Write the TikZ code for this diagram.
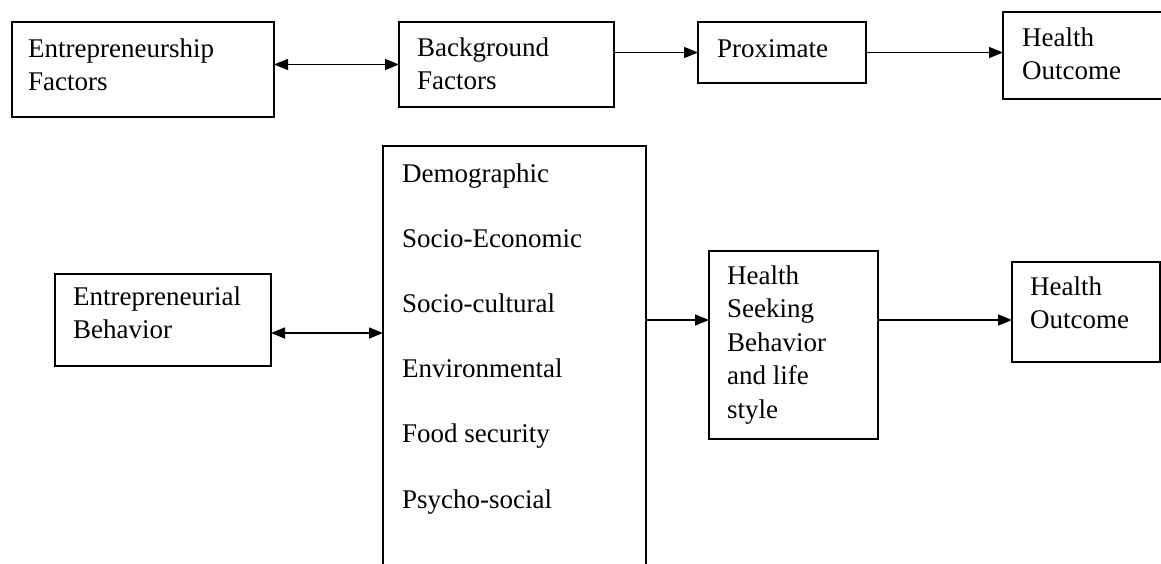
\documentclass[tikz,border=0pt]{standalone}
\usepackage{fontspec}
\setmainfont{Liberation Serif}
\usetikzlibrary{arrows.meta}
\begin{document}
\begin{tikzpicture}[x=1pt,y=-1pt,
  box/.style={draw, line width=1.6pt, rectangle, inner sep=0pt, outer sep=0pt, anchor=north west},
  txt/.style={anchor=base west, align=left, inner sep=0pt, font=\fontsize{27}{33.5}\selectfont},
  listtxt/.style={anchor=base west, align=left, inner sep=0pt, font=\fontsize{27}{65.2}\selectfont},
  link/.style={line width=1.5pt, -{Triangle[length=14pt,width=11pt]}},
  both/.style={line width=1.5pt, {Triangle[length=14pt,width=11pt]}-{Triangle[length=14pt,width=11pt]}}]
\useasboundingbox (0,0) rectangle (1161,563);
\clip (0,0) rectangle (1161,563);
% top row (text nodes are placed by the baseline of their last line)
\node[box, minimum width=262pt, minimum height=95pt] (ef) at (12,22) {};
\node[txt] (eft) at (28,90.5) {Entrepreneurship\\Factors};
\node[box, minimum width=215pt, minimum height=85pt] (bf) at (399,22) {};
\node[txt] (bft) at (417,89.5) {Background\\Factors};
\node[box, minimum width=168pt, minimum height=61pt] (px) at (698,22) {};
\node[txt] (pxt) at (717,57) {Proximate};
\node[box, minimum width=175pt, minimum height=87pt] (hoa) at (1003,12) {};
\node[txt] (hoat) at (1022,79.5) {Health\\Outcome};
% bottom row
\node[box, minimum width=216pt, minimum height=92pt] (eb) at (55,274) {};
\node[txt] (ebt) at (73,338.5) {Entrepreneurial\\Behavior};
\node[box, minimum width=263pt, minimum height=450pt] (bb) at (383,146) {};
\node[listtxt] (bbt) at (402,508) {Demographic\\Socio-Economic\\Socio-cultural\\Environmental\\Food security\\Psycho-social};
\node[box, minimum width=169pt, minimum height=188pt] (hsb) at (709,251) {};
\node[txt] (hsbt) at (727,418) {Health\\Seeking\\Behavior\\and life\\style};
\node[box, minimum width=148pt, minimum height=100pt] (hob) at (1012,262) {};
\node[txt] (hobt) at (1030,328.5) {Health\\Outcome};
% connectors
\draw[both] (ef.east |- bf.west) -- (bf.west);
\draw[link] (bf.east |- px.west) -- (px.west);
\draw[link] (px.east) -- (hoa.west |- px.east);
\draw[both] ([yshift=-13pt]eb.east) -- ([yshift=-13pt]eb.east -| bb.west);
\draw[link] ([yshift=25pt]hsb.west -| bb.east) -- ([yshift=25pt]hsb.west);
\draw[link] ([yshift=25pt]hsb.east) -- ([yshift=25pt]hsb.east -| hob.west);
\end{tikzpicture}
\end{document}
